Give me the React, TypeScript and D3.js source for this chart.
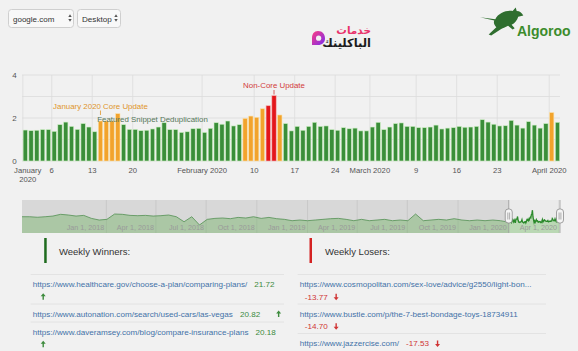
import React from 'react';
import * as d3 from 'd3';

// ---------- DATA ----------
const janValues = [1.44, 1.41, 1.43, 1.46, 1.46, 1.38, 1.69, 1.81, 1.61, 1.47, 1.74, 1.58, 1.36, 1.86, 1.86, 1.86, 2.2, 1.69, 1.47, 1.47, 1.41, 1.43, 1.49, 1.58, 1.78, 1.46, 1.46, 1.33, 1.36, 1.5, 1.52];
const febValues = [1.33, 1.52, 1.78, 1.71, 1.86, 1.63, 1.69, 1.98, 2.09, 2.03, 2.43, 2.57, 3.04, 2.14, 1.74, 1.4, 1.61, 1.43, 1.61, 1.8, 1.61, 1.63, 1.46, 1.43, 1.55, 1.5, 1.53, 1.4, 1.4];
const marValues = [1.58, 1.8, 1.46, 1.58, 1.74, 1.77, 1.61, 1.61, 1.55, 1.55, 1.58, 1.67, 1.49, 1.53, 1.55, 1.61, 1.57, 1.58, 1.61, 1.92, 1.81, 1.71, 1.63, 1.64, 1.89, 1.67, 1.53, 1.83, 1.67, 1.53, 1.74];
const aprValues = [2.25, 1.8];
const dailyValues = [...janValues, ...febValues, ...marValues, ...aprValues];
const firstDay = '2020-01-01';
const endDay = '2020-04-03';

const orangeDays = ['2020-01-14', '2020-01-15', '2020-01-16', '2020-01-17', '2020-02-08', '2020-02-09', '2020-02-10', '2020-02-11', '2020-02-14', '2020-04-01'];
const redDays = ['2020-02-12', '2020-02-13'];

const flagDates = ['2020-01-14', '2020-01-23', '2020-02-13'];
const flagTexts = ['January 2020 Core Update', 'Featured Snippet Deduplication', 'Non-Core Update'];
const flagKinds = ['core', 'feature', 'noncore'];

const xTickDates = ['2020-01-01', '2020-01-06', '2020-01-13', '2020-01-20', '2020-02-01', '2020-02-10', '2020-02-17', '2020-02-24', '2020-03-01', '2020-03-09', '2020-03-16', '2020-03-23', '2020-04-01'];
const xTickLabels = ['January|2020', '6', '13', '20', 'February 2020', '10', '17', '24', 'March 2020', '9', '16', '23', 'April 2020'];
const yGridValues = [0, 1, 2, 3, 4];
const yLabelValues = [0, 2, 4];

// navigator history (bi-weekly readings before 2020)
const navHistoryStart = '2017-08-01';
const navHistoryValues = [
  2.17, 2.17, 2.1, 2.17, 2.26, 2.49, 2.4, 2.26, 2.35, 1.95,
  1.73, 1.82, 2.53, 2.49, 2.35, 2.31, 2.35, 2.26, 2.31, 2.4,
  2.17, 1.5, 2.17, 1.07, 1.82, 1.95, 2.0, 1.91, 2.08, 2.0,
  2.17, 1.95, 2.08, 1.91, 1.82, 1.64, 1.73, 1.64, 1.73, 1.82,
  1.91, 1.95, 1.82, 1.64, 1.82, 1.64, 1.73, 1.82, 1.64, 1.73,
  1.64, 2.53, 1.64, 1.73, 1.82, 1.73, 1.91, 1.73, 1.64, 1.73,
  1.64, 1.73, 1.64,
];
const navTickDates = ['2018-01-01', '2018-04-01', '2018-07-01', '2018-10-01', '2019-01-01', '2019-04-01', '2019-07-01', '2019-10-01', '2020-01-01', '2020-04-01'];

const winnerUrls = [
  'https://www.healthcare.gov/choose-a-plan/comparing-plans/',
  'https://www.autonation.com/search/used-cars/las-vegas',
  'https://www.daveramsey.com/blog/compare-insurance-plans',
];
const winnerScores = ['21.72', '20.82', '20.18'];
const loserUrls = [
  'https://www.cosmopolitan.com/sex-love/advice/g2550/light-bon...',
  'https://www.bustle.com/p/the-7-best-bondage-toys-18734911',
  'https://www.jazzercise.com/',
];
const loserScores = ['-13.77', '-14.70', '-17.53'];

// ---------- HELPERS ----------
const FONT = '"Liberation Sans", Arial, sans-serif';
let measureCtx: CanvasRenderingContext2D | null = null;
function measure(text: string, size: number) {
  if (!measureCtx) measureCtx = document.createElement('canvas').getContext('2d');
  if (!measureCtx) return text.length * size * 0.5;
  measureCtx.font = `${size}px "Liberation Sans", Arial, sans-serif`;
  return measureCtx.measureText(text).width;
}

function Arrow({ x, y, up, color }: { x: number; y: number; up: boolean; color: string }) {
  const d = up
    ? `M${x},${y - 0.5} L${x + 2.5},${y - 3.5} L${x + 5},${y - 0.5} L${x + 3.2},${y - 0.5} L${x + 3.2},${y + 3} L${x + 1.8},${y + 3} L${x + 1.8},${y - 0.5} Z`
    : `M${x},${y + 0.5} L${x + 2.5},${y + 3.5} L${x + 5},${y + 0.5} L${x + 3.2},${y + 0.5} L${x + 3.2},${y - 3} L${x + 1.8},${y - 3} L${x + 1.8},${y + 0.5} Z`;
  return <path d={d} fill={color} />;
}

function ListColumn({ urls, scores, x0, right, lineRight, up, color, top, gapArrow }: any) {
  const fs = 8.1;
  const items: any[] = [];
  let s = top;
  urls.forEach((url: string, i: number) => {
    const urlW = measure(url, fs);
    const sc = scores[i];
    const scW = measure(sc, fs);
    let scoreX = x0 + urlW + 7;
    let scoreLine = 0;
    if (scoreX + scW > right) {
      scoreX = x0 + 5;
      scoreLine = 1;
    }
    let arrowX = scoreX + scW + gapArrow;
    let arrowLine = scoreLine;
    if (arrowX + 5 > right) {
      arrowX = x0 + 8;
      arrowLine = 1;
    }
    const lines = Math.max(scoreLine, arrowLine) + 1;
    const lineCenter = (l: number) => s + 10 + l * 12.3;
    items.push(
      <g key={i}>
        <line x1={x0 - 2} x2={lineRight} y1={s} y2={s} stroke="#e0e0e0" strokeWidth={0.8} />
        <text x={x0} y={lineCenter(0) + 2.9} fontSize={fs} fill="#4372a8" fontFamily={FONT}>{url}</text>
        <text x={scoreX} y={lineCenter(scoreLine) + 2.9} fontSize={fs} fill={color} fontFamily={FONT}>{sc}</text>
        <Arrow x={arrowX} y={lineCenter(arrowLine)} up={up} color={color} />
      </g>
    );
    s += lines === 1 ? 18 : 29.5;
  });
  return <g>{items}</g>;
}

// ---------- APP ----------
export default function App() {
  const W = 578, H = 351;
  const parse = d3.timeParse('%Y-%m-%d');
  const fmt = d3.timeFormat('%Y-%m-%d');

  const dailyDates = d3.timeDay.range(parse(firstDay)!, parse(endDay)!);
  const x = d3.scaleTime().domain([parse(firstDay)!, parse(endDay)!]).range([22.8, 560.8]);
  const y = d3.scaleLinear().domain([0, 4]).range([161, 75]);
  const step = x(dailyDates[1]) - x(dailyDates[0]);
  const barW = step - 1.45;
  const plotL = 22, plotR = 560;

  const barColor = (d: Date) => {
    const k = fmt(d);
    if (redDays.includes(k)) return '#e3161b';
    if (orangeDays.includes(k)) return '#f2a32c';
    return '#3a8e39';
  };
  const barStroke = (d: Date) => {
    const k = fmt(d);
    if (redDays.includes(k)) return '#f5b3b3';
    if (orangeDays.includes(k)) return '#fbe0a8';
    return '#cdeec4';
  };

  // navigator
  const navTop = 200, navBot = 233;
  const nx = d3.scaleTime().domain([parse(navHistoryStart)!, parse(endDay)!]).range([plotL, plotR]);
  const ny = d3.scaleLinear().domain([0, 4.4]).range([navBot, navTop]);
  const navPoints: [Date, number][] = [
    ...navHistoryValues.map((v, i) => [d3.timeDay.offset(parse(navHistoryStart)!, i * 14), v] as [Date, number]),
    ...dailyValues.map((v, i) => [dailyDates[i], v] as [Date, number]),
  ];
  const area = d3.area<[Date, number]>().x((d) => nx(d[0])).y0(navBot).y1((d) => ny(d[1]));
  const line = d3.line<[Date, number]>().x((d) => nx(d[0])).y((d) => ny(d[1]));
  const selX0 = nx(parse(firstDay)!);
  const selX1 = plotR;
  const navFmt = d3.timeFormat('%b %-d, %Y');

  const flagStyle: Record<string, { color: string; y: number; stem: boolean }> = {
    core: { color: '#e0952a', y: 108.5, stem: true },
    feature: { color: '#56775a', y: 121.5, stem: false },
    noncore: { color: '#d23b3b', y: 88, stem: true },
  };

  return (
    <svg width={W} height={H} style={{ position: 'absolute', left: 0, top: 0, display: 'block' }} fontFamily={FONT}>
      <defs>
        <clipPath id="navClip"><rect x={plotL} y={navTop} width={plotR - plotL} height={navBot - navTop} /></clipPath>
        <clipPath id="selClip"><rect x={selX0} y={navTop} width={selX1 - selX0} height={navBot - navTop} /></clipPath>
        <clipPath id="unselClip"><rect x={plotL} y={navTop} width={selX0 - plotL} height={navBot - navTop} /></clipPath>
        <linearGradient id="logoGrad" x1="0" y1="0" x2="1" y2="1">
          <stop offset="0" stopColor="#ff3d7f" />
          <stop offset="1" stopColor="#7a2cf0" />
        </linearGradient>
      </defs>
      <rect x={0} y={0} width={W} height={H} fill="#f1f1f1" />

      {/* dropdowns */}
      <g>
        <rect x={8.5} y={9.5} width={65} height={18} rx={3} fill="#f8f8f8" stroke="#cfcfcf" />
        <text x={13} y={21.5} fontSize={8} fill="#333">google.com</text>
        <path d="M68.3,17 L71.7,17 L70,14.3 Z M68.3,19 L71.7,19 L70,21.7 Z" fill="#555" />
        <rect x={77.5} y={9.5} width={43} height={18} rx={3} fill="#f8f8f8" stroke="#cfcfcf" />
        <text x={82} y={21.5} fontSize={8.1} fill="#333">Desktop</text>
        <path d="M114.3,17 L117.7,17 L116,14.3 Z M114.3,19 L117.7,19 L116,21.7 Z" fill="#555" />
      </g>

      {/* Arabic logo */}
      <g>
        <path d="M318,31 C322.5,31 325,34.5 325,38.5 C325,42.5 322,45 318,45 L312,45 L312,38 C312,34 314,31 318,31 Z" fill="url(#logoGrad)" />
        <circle cx={318.6} cy={38.2} r={2.6} fill="#f1f1f1" />
        <text x={371} y={33.5} fontSize={10.5} fontWeight="bold" fill="#e8336b" textAnchor="end" fontFamily='"DejaVu Sans", sans-serif'>خدمات</text>
        <text x={371} y={46.5} fontSize={11.5} fontWeight="bold" fill="#1c1c1c" textAnchor="end" fontFamily='"DejaVu Sans", sans-serif'>الباكلينك</text>
      </g>

      {/* Algoroo logo */}
      <g transform="translate(480,10) scale(1.02)">
        <path d="M0,7 L15,9 C18,3 26,0 32,1 L35,-2.5 L36,1 C39,1 41,3 42.5,5.5 L37.5,6.5 C36.5,10 34,13 31,14.5 L34,18 L32,19 L27.5,15.5 C25,17 22,18 20,19 L11,25 L8.5,24 L16,17 C14,15 13,12.5 14,10.3 Z" fill="#2f6e2f" />
      </g>
      <text x={517} y={35.5} fontSize={14} fontWeight="bold" fill="#3c8c2c">Algoroo</text>

      {/* main chart grid */}
      <g>
        {yGridValues.map((v) => (
          <line key={v} x1={plotL} x2={plotR} y1={y(v)} y2={y(v)} stroke="#dcdcdc" strokeWidth={0.8} />
        ))}
        {xTickDates.map((d) => (
          <line key={d} x1={x(parse(d)!)} x2={x(parse(d)!)} y1={y(4)} y2={y(0)} stroke="#dcdcdc" strokeWidth={0.8} />
        ))}
        {yLabelValues.map((v) => (
          <text key={v} x={16.8} y={y(v) + 2.8} fontSize={8} fill="#555" textAnchor="end">{v}</text>
        ))}
      </g>

      {/* bars */}
      <g>
        {dailyDates.map((d, i) => (
          <rect key={i} x={x(d) + 0.3} y={y(dailyValues[i])} width={barW} height={y(0) - y(dailyValues[i])}
            fill={barColor(d)} stroke={barStroke(d)} strokeWidth={0.6} />
        ))}
      </g>

      {/* flags */}
      <g>
        {flagDates.map((fd, i) => {
          const st = flagStyle[flagKinds[i]];
          const cx = x(parse(fd)!) + 0.3 + barW / 2;
          return (
            <g key={fd}>
              {st.stem && <line x1={cx} x2={cx} y1={st.y + 2} y2={st.y + 6.5} stroke={st.color} strokeWidth={0.8} />}
              <text x={cx} y={st.y} fontSize={7.9} fill={st.color} textAnchor="middle">{flagTexts[i]}</text>
            </g>
          );
        })}
      </g>

      {/* x labels */}
      <g>
        {xTickDates.map((d, i) => {
          const lbl = xTickLabels[i];
          const px = x(parse(d)!);
          if (lbl.includes('|')) {
            const [a, b] = lbl.split('|');
            return (
              <text key={d} x={px + 5} y={173} fontSize={7.7} fill="#555" textAnchor="middle">
                <tspan x={px + 5} dy={0}>{a}</tspan>
                <tspan x={px + 5} dy={9.3}>{b}</tspan>
              </text>
            );
          }
          return <text key={d} x={px} y={173} fontSize={7.7} fill="#555" textAnchor="middle">{lbl}</text>;
        })}
      </g>

      {/* navigator */}
      <g>
        <rect x={plotL} y={navTop} width={plotR - plotL} height={navBot - navTop} fill="#ebebeb" />
        {navTickDates.map((d) => (
          <line key={d} x1={nx(parse(d)!)} x2={nx(parse(d)!)} y1={navTop} y2={navBot} stroke="#d2d2d2" strokeWidth={0.7} />
        ))}
        <g clipPath="url(#navClip)">
          <path d={area(navPoints)!} fill="rgba(120,190,105,0.42)" />
          <path d={line(navPoints)!} fill="none" stroke="#5b9d5b" strokeWidth={0.8} clipPath="url(#unselClip)" />
          <path d={line(navPoints)!} fill="none" stroke="#2b8a2b" strokeWidth={1.3} clipPath="url(#selClip)" />
        </g>
        <rect x={plotL} y={navTop} width={selX0 - plotL} height={navBot - navTop} fill="rgba(0,0,0,0.08)" />
        {navTickDates.map((d) => (
          <text key={d} x={nx(parse(d)!) - 2} y={229.5} fontSize={7.2} fill="#9a9a9a" textAnchor="end">{navFmt(parse(d)!)}</text>
        ))}
        <line x1={selX0} x2={selX0} y1={navTop} y2={navBot} stroke="#a0a0a0" strokeWidth={0.8} />
        <line x1={selX1} x2={selX1} y1={navTop} y2={navBot} stroke="#a0a0a0" strokeWidth={0.8} />
        {[selX0, selX1].map((hx, i) => (
          <g key={i}>
            <rect x={hx - 3.5} y={209} width={7} height={14} rx={3} fill="#f4f4f4" stroke="#8c8c8c" strokeWidth={0.8} />
            <line x1={hx - 0.9} x2={hx - 0.9} y1={212.5} y2={219.5} stroke="#8c8c8c" strokeWidth={0.7} />
            <line x1={hx + 0.9} x2={hx + 0.9} y1={212.5} y2={219.5} stroke="#8c8c8c" strokeWidth={0.7} />
          </g>
        ))}
      </g>

      {/* winners / losers */}
      <g>
        <rect x={44.2} y={238} width={2.5} height={25} fill="#1f6b1f" />
        <text x={59} y={254.5} fontSize={9.5} fill="#333">Weekly Winners:</text>
        <rect x={309.5} y={238} width={2.5} height={25} fill="#d42222" />
        <text x={325} y={254.5} fontSize={9.5} fill="#333">Weekly Losers:</text>
        <ListColumn urls={winnerUrls} scores={winnerScores} x0={32.7} right={290} lineRight={284} up={true} color="#3d8b3d" top={274.5} gapArrow={16} />
        <ListColumn urls={loserUrls} scores={loserScores} x0={299.7} right={546} lineRight={546} up={false} color="#d03535" top={274.5} gapArrow={6} />
      </g>
    </svg>
  );
}
